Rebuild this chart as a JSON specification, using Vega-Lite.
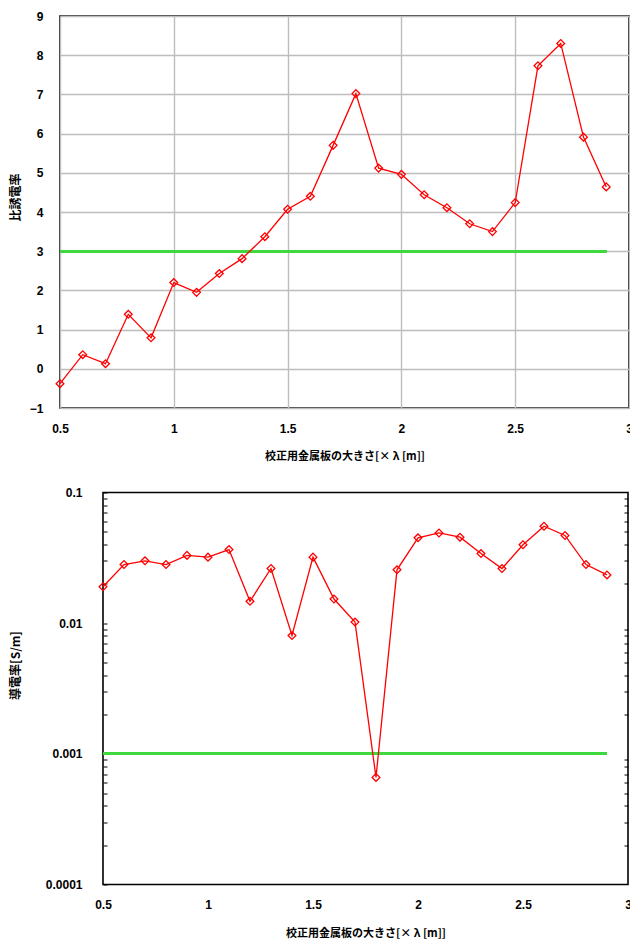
{
  "$schema": "https://vega.github.io/schema/vega-lite/v6.json",
  "background": "white",
  "padding": {"left": 1, "top": 9, "right": 0, "bottom": 0},
  "spacing": 23.5,
  "config": {
    "view": {"stroke": "#000", "strokeWidth": 1.6},
    "axis": {
      "labelFont": "Liberation Sans", "labelFontWeight": "bold", "labelFontSize": 12, "labelColor": "#000",
      "titleFont": "Noto Sans CJK JP", "titleFontWeight": "bold", "titleFontSize": 11, "titleColor": "#000",
      "gridColor": "#bdbdbd", "gridWidth": 1.4, "domain": false, "ticks": false, "labelOverlap": false
    }
  },
  "datasets": {
    "blank": [{}],
    "perm": [
      {"size": 0.5, "permittivity": -0.38}, {"size": 0.6, "permittivity": 0.36}, {"size": 0.7, "permittivity": 0.13},
      {"size": 0.8, "permittivity": 1.39}, {"size": 0.9, "permittivity": 0.79}, {"size": 1.0, "permittivity": 2.2},
      {"size": 1.1, "permittivity": 1.95}, {"size": 1.2, "permittivity": 2.43}, {"size": 1.3, "permittivity": 2.81},
      {"size": 1.4, "permittivity": 3.37}, {"size": 1.5, "permittivity": 4.07}, {"size": 1.6, "permittivity": 4.4},
      {"size": 1.7, "permittivity": 5.7}, {"size": 1.8, "permittivity": 7.02}, {"size": 1.9, "permittivity": 5.12},
      {"size": 2.0, "permittivity": 4.96}, {"size": 2.1, "permittivity": 4.44}, {"size": 2.2, "permittivity": 4.11},
      {"size": 2.3, "permittivity": 3.7}, {"size": 2.4, "permittivity": 3.5}, {"size": 2.5, "permittivity": 4.24},
      {"size": 2.6, "permittivity": 7.73}, {"size": 2.7, "permittivity": 8.3}, {"size": 2.8, "permittivity": 5.91},
      {"size": 2.9, "permittivity": 4.64}
    ],
    "cond": [
      {"size": 0.5, "conductivity": 0.019}, {"size": 0.6, "conductivity": 0.0281}, {"size": 0.7, "conductivity": 0.030},
      {"size": 0.8, "conductivity": 0.0281}, {"size": 0.9, "conductivity": 0.033}, {"size": 1.0, "conductivity": 0.032},
      {"size": 1.1, "conductivity": 0.0366}, {"size": 1.2, "conductivity": 0.0147}, {"size": 1.3, "conductivity": 0.0262},
      {"size": 1.4, "conductivity": 0.00805}, {"size": 1.5, "conductivity": 0.032}, {"size": 1.6, "conductivity": 0.0153},
      {"size": 1.7, "conductivity": 0.0102}, {"size": 1.8, "conductivity": 0.00066}, {"size": 1.9, "conductivity": 0.0256},
      {"size": 2.0, "conductivity": 0.045}, {"size": 2.1, "conductivity": 0.049}, {"size": 2.2, "conductivity": 0.0455},
      {"size": 2.3, "conductivity": 0.0341}, {"size": 2.4, "conductivity": 0.0262}, {"size": 2.5, "conductivity": 0.0398},
      {"size": 2.6, "conductivity": 0.0552}, {"size": 2.7, "conductivity": 0.0469}, {"size": 2.8, "conductivity": 0.0281},
      {"size": 2.9, "conductivity": 0.0234}
    ]
  },
  "vconcat": [
    {
      "spacing": 0,
      "hconcat": [
        {
          "width": 1, "height": 1,
          "data": {"name": "blank"},
          "view": {"stroke": null},
          "mark": {"type": "point", "opacity": 0},
          "encoding": {}
        },
        {
          "width": 569,
          "height": 392,
          "data": {"name": "perm"},
          "encoding": {
            "x": {
              "field": "size", "type": "quantitative",
              "scale": {"domain": [0.5, 3], "nice": false, "zero": false},
              "axis": {"values": [0.5, 1, 1.5, 2, 2.5, 3], "format": "~g", "labelPadding": 15, "labelFlush": false,
                       "title": "校正用金属板の大きさ[× λ [m]]", "titlePadding": 16}
            },
            "y": {
              "field": "permittivity", "type": "quantitative",
              "scale": {"domain": [-1, 9], "nice": false, "zero": false},
              "axis": {"values": [-1, 0, 1, 2, 3, 4, 5, 6, 7, 8, 9], "format": "~g", "labelPadding": 17,
                       "minExtent": 25, "maxExtent": 25, "title": "比誘電率", "titlePadding": 13,
                       "titleFontSize": 12, "titleY": 181}
            }
          },
          "layer": [
            {
              "mark": {"type": "rule", "color": "#3fd83f", "strokeWidth": 2},
              "encoding": {
                "x": {"datum": 0.5, "type": "quantitative"},
                "x2": {"datum": 2.9},
                "y": {"datum": 3, "type": "quantitative"}
              }
            },
            {
              "mark": {"type": "line", "color": "#ff0000", "strokeWidth": 1.3,
                       "point": {"shape": "diamond", "filled": false, "stroke": "#ff0000", "size": 60, "strokeWidth": 1.3}}
            }
          ]
        }
      ]
    },
    {
      "spacing": 0,
      "hconcat": [
        {
          "width": 1, "height": 1,
          "data": {"name": "blank"},
          "view": {"stroke": null},
          "mark": {"type": "point", "opacity": 0},
          "encoding": {}
        },
        {
          "width": 525,
          "height": 392,
          "data": {"name": "cond"},
          "resolve": {"axis": {"y": "independent"}},
          "layer": [
            {
              "mark": {"type": "rule", "color": "#3fd83f", "strokeWidth": 2},
              "encoding": {
                "x": {"datum": 0.5, "type": "quantitative", "scale": {"domain": [0.5, 3], "nice": false, "zero": false}},
                "x2": {"datum": 2.9},
                "y": {"datum": 0.001, "type": "quantitative",
                      "scale": {"type": "log", "domain": [0.0001, 0.1], "nice": false},
                      "axis": {"orient": "right", "labels": false, "title": null, "grid": false, "ticks": true,
                               "tickSize": -4, "tickColor": "#000", "tickWidth": 1,
                               "values": [0.0002, 0.0003, 0.0004, 0.0005, 0.0006, 0.0007, 0.0008, 0.0009,
                                          0.002, 0.003, 0.004, 0.005, 0.006, 0.007, 0.008, 0.009,
                                          0.02, 0.03, 0.04, 0.05, 0.06, 0.07, 0.08, 0.09]}}
              }
            },
            {
              "mark": {"type": "line", "color": "#ff0000", "strokeWidth": 1.3,
                       "point": {"shape": "diamond", "filled": false, "stroke": "#ff0000", "size": 60, "strokeWidth": 1.3}},
              "encoding": {
                "x": {
                  "field": "size", "type": "quantitative",
                  "scale": {"domain": [0.5, 3], "nice": false, "zero": false},
                  "axis": {"values": [0.5, 1, 1.5, 2, 2.5, 3], "format": "~g", "labelPadding": 15, "labelFlush": false,
                           "title": "校正用金属板の大きさ[× λ [m]]", "titlePadding": 17}
                },
                "y": {
                  "field": "conductivity", "type": "quantitative",
                  "scale": {"type": "log", "domain": [0.0001, 0.1], "nice": false},
                  "axis": {
                    "orient": "left",
                    "values": [0.0001, 0.0002, 0.0003, 0.0004, 0.0005, 0.0006, 0.0007, 0.0008, 0.0009,
                               0.001, 0.002, 0.003, 0.004, 0.005, 0.006, 0.007, 0.008, 0.009,
                               0.01, 0.02, 0.03, 0.04, 0.05, 0.06, 0.07, 0.08, 0.09, 0.1],
                    "format": "~g",
                    "labelExpr": "abs(log(datum.value)/LN10 - round(log(datum.value)/LN10)) < 1e-6 ? datum.label : ''",
                    "gridOpacity": {"condition": {"test": "abs(log(datum.value)/LN10 - round(log(datum.value)/LN10)) < 1e-6", "value": 1}, "value": 0},
                    "ticks": true, "tickSize": -4, "tickColor": "#000", "tickWidth": 1,
                    "labelPadding": 25, "minExtent": 60, "maxExtent": 60,
                    "title": "導電率[S/m]", "titlePadding": 21, "titleFontSize": 12, "titleY": 172.5
                  }
                }
              }
            }
          ]
        }
      ]
    }
  ]
}
